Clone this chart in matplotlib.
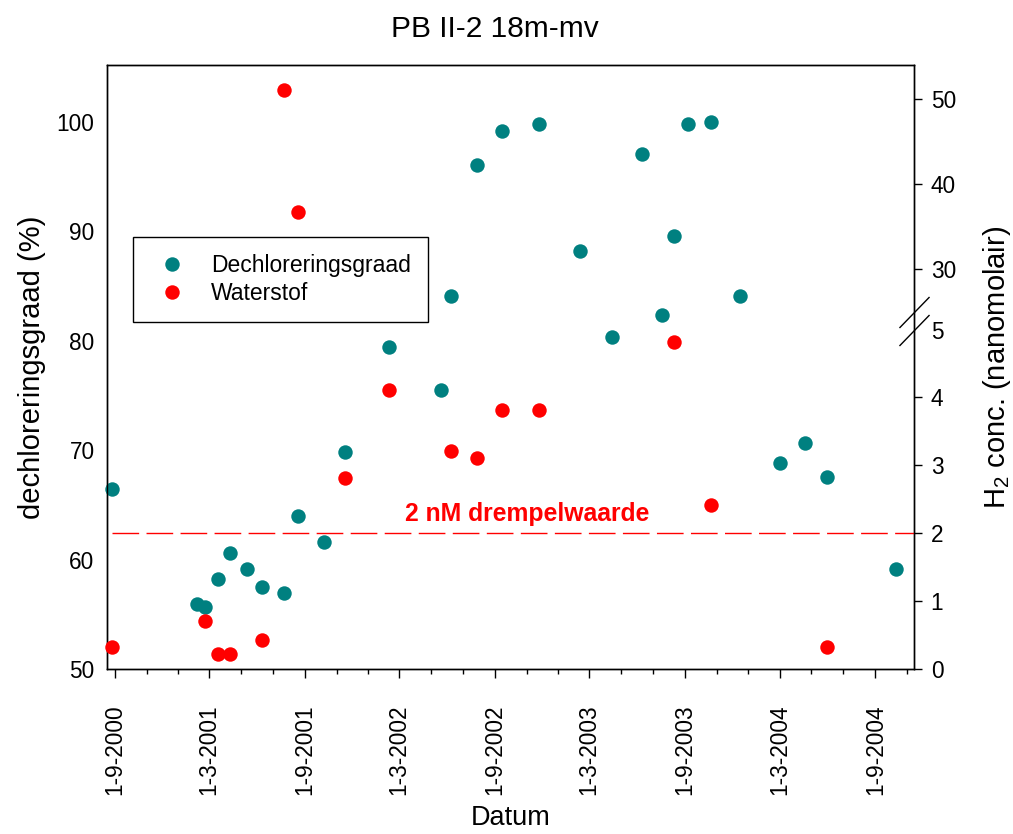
import numpy as np
import matplotlib
matplotlib.use('Agg')
import matplotlib.pyplot as plt
import matplotlib.dates as mdates
from matplotlib.path import Path
from matplotlib.lines import Line2D
from matplotlib.transforms import blended_transform_factory

plt.rcParams['font.family'] = ['Liberation Sans', 'DejaVu Sans']
plt.rcParams['mathtext.fontset'] = 'custom'
plt.rcParams['mathtext.rm'] = 'Liberation Sans'

# ---------------- data ----------------
dechlor_dates = ['2000-08-26', '2001-02-06', '2001-02-21', '2001-03-19', '2001-04-10',
                 '2001-05-13', '2001-06-11', '2001-07-23', '2001-08-19', '2001-10-08',
                 '2001-11-18', '2002-02-10', '2002-05-21', '2002-06-09', '2002-07-28',
                 '2002-09-15', '2002-11-24', '2003-02-12', '2003-04-14', '2003-06-10',
                 '2003-07-19', '2003-08-11', '2003-09-07', '2003-10-21', '2003-12-15',
                 '2004-03-02', '2004-04-18', '2004-05-31', '2004-10-11']
dechlor_pct = [66.4, 55.9, 55.7, 58.2, 60.6,
               59.1, 57.5, 56.9, 64.0, 61.6,
               69.8, 79.4, 75.5, 84.1, 96.0,
               99.1, 99.8, 88.2, 80.3, 97.0,
               82.3, 89.5, 99.8, 100.0, 84.1,
               68.8, 70.6, 67.5, 59.1]

h2_dates = ['2000-08-26', '2001-02-21', '2001-03-19', '2001-04-10', '2001-06-11',
            '2001-07-23', '2001-08-19', '2001-11-18', '2002-02-10', '2002-06-09',
            '2002-07-28', '2002-09-15', '2002-11-24', '2003-08-11', '2003-10-21',
            '2004-05-31']
h2_nM = [0.32, 0.71, 0.22, 0.22, 0.42,
         51.1, 36.7, 2.81, 4.11, 3.21,
         3.11, 3.81, 3.81, 4.81, 2.42,
         0.32]

threshold_nM = 2
threshold_label = '2 nM drempelwaarde'

xtick_dates = ['2000-09-01', '2001-03-01', '2001-09-01', '2002-03-01', '2002-09-01',
               '2003-03-01', '2003-09-01', '2004-03-01', '2004-09-01']
xtick_labels = ['1-9-2000', '1-3-2001', '1-9-2001', '1-3-2002', '1-9-2002',
                '1-3-2003', '1-9-2003', '1-3-2004', '1-9-2004']
left_ticks = [50, 60, 70, 80, 90, 100]
right_ticks = [0, 1, 2, 3, 4, 5, 30, 40, 50]

teal = '#008080'
red = '#ff0000'

# ---------------- broken right-axis scale (nM -> % position) ----------------
lo_slope = 67.9 / 10.95          # % per nM below the break
hi_slope = 8.5 / 10.95           # % per nM above the break
hi_at30 = 50 + 399.7 / 10.95
hk = np.array([-100.0, 5.0, 25.0, 300.0])
pk = np.array([50 + lo_slope * -100, 50 + lo_slope * 5,
               hi_at30 + hi_slope * (25 - 30), hi_at30 + hi_slope * (300 - 30)])


def fwd(h):
    return np.interp(np.asarray(h, dtype=float), hk, pk)


def inv(p):
    return np.interp(np.asarray(p, dtype=float), pk, hk)


# ---------------- figure ----------------
fig = plt.figure(figsize=(10.13, 8.34), dpi=100)
ax = fig.add_axes([107 / 1013, 1 - 669 / 834, 807 / 1013, 604 / 834])
ax2 = ax.twinx()
ax2.set_yscale('function', functions=(fwd, inv))

ymin, ymax = 50, 105.16
ax.set_ylim(ymin, ymax)
ax2.set_ylim(float(inv(ymin)), float(inv(ymax)))

d_dates = np.array(dechlor_dates, dtype='datetime64[D]')
r_dates = np.array(h2_dates, dtype='datetime64[D]')

MS = 10.4
ax.plot(d_dates, dechlor_pct, 'o', color=teal, ms=MS, mew=0, clip_on=False, zorder=3)
ax2.plot(r_dates, h2_nM, 'o', color=red, ms=MS, mew=0, clip_on=False, zorder=3)

xlo = mdates.date2num(np.datetime64('2000-08-17'))
xhi = mdates.date2num(np.datetime64('2004-11-14'))
ax.set_xlim(xlo, xhi)

# threshold line + label
ax2.hlines(threshold_nM, mdates.date2num(r_dates[0]), xhi, colors=red,
           linestyles=(0, (19.2, 5.3)), lw=1.0, zorder=2)
ax2.text(mdates.date2num(np.datetime64('2002-11-02')), 2.28, threshold_label,
         color=red, fontsize=17.8, fontweight='bold', ha='center', va='center')

# axis break marks on right spine
btrans = blended_transform_factory(ax2.transAxes, ax2.transData)
brk = Path([(-1, -1.03), (1, 1.03)], [Path.MOVETO, Path.LINETO])
ax2.plot([1, 1], [5, 25], linestyle='none', marker=brk, ms=22.3, mew=1.0,
         mfc='none', mec='black', transform=btrans, clip_on=False, zorder=5)

# ticks
TL = 16.3
ax.set_yticks(left_ticks)
ax.set_yticklabels([str(t) for t in left_ticks])
ax.tick_params(axis='y', length=0, pad=9, labelsize=TL)

ax2.set_yticks(right_ticks)
ax2.set_yticklabels([str(t) for t in right_ticks])
ax2.yaxis.set_minor_locator(matplotlib.ticker.NullLocator())
ax2.tick_params(axis='y', length=6, width=1.0, pad=6, labelsize=TL)
ax2.yaxis.get_major_ticks()[5].tick2line.set_visible(False)

ax.set_xticks(mdates.date2num(np.array(xtick_dates, dtype='datetime64[D]')))
ax.set_xticklabels(xtick_labels, rotation=90)
ax.xaxis.set_minor_locator(mdates.MonthLocator(bymonth=[1, 3, 5, 7, 9, 11]))
ax.tick_params(axis='x', which='major', length=6.8, width=1.0, pad=19, labelsize=TL)
ax.tick_params(axis='x', which='minor', length=3.6, width=1.0)

for a in (ax, ax2):
    for s in a.spines.values():
        s.set_linewidth(1.0)
        s.set_color('black')

ax.set_ylabel('dechloreringsgraad (%)', fontsize=21, labelpad=8)
ax2.set_ylabel(r'H$_\mathregular{2}$ conc. (nanomolair)', fontsize=21, labelpad=18)
ax.set_xlabel('Datum', fontsize=19.5, labelpad=7)

fig.text(495 / 1013, 1 - 37 / 834, 'PB II-2 18m-mv', fontsize=21.5, ha='center', va='baseline')

handles = [Line2D([], [], ls='none', marker='o', color=teal, ms=MS, mew=0),
           Line2D([], [], ls='none', marker='o', color=red, ms=MS, mew=0)]
leg = ax2.legend(handles, ['Dechloreringsgraad', 'Waterstof'], loc='upper left',
                 bbox_to_anchor=(26 / 807, (669 - 237) / 604), borderaxespad=0,
                 fontsize=16.5, frameon=True, fancybox=False, edgecolor='black',
                 framealpha=1, borderpad=0.75, handlelength=1.9, handletextpad=0.75,
                 labelspacing=0.2)
leg.get_frame().set_linewidth(1.0)
leg.set_zorder(6)

fig.savefig('out.png', dpi=100)
